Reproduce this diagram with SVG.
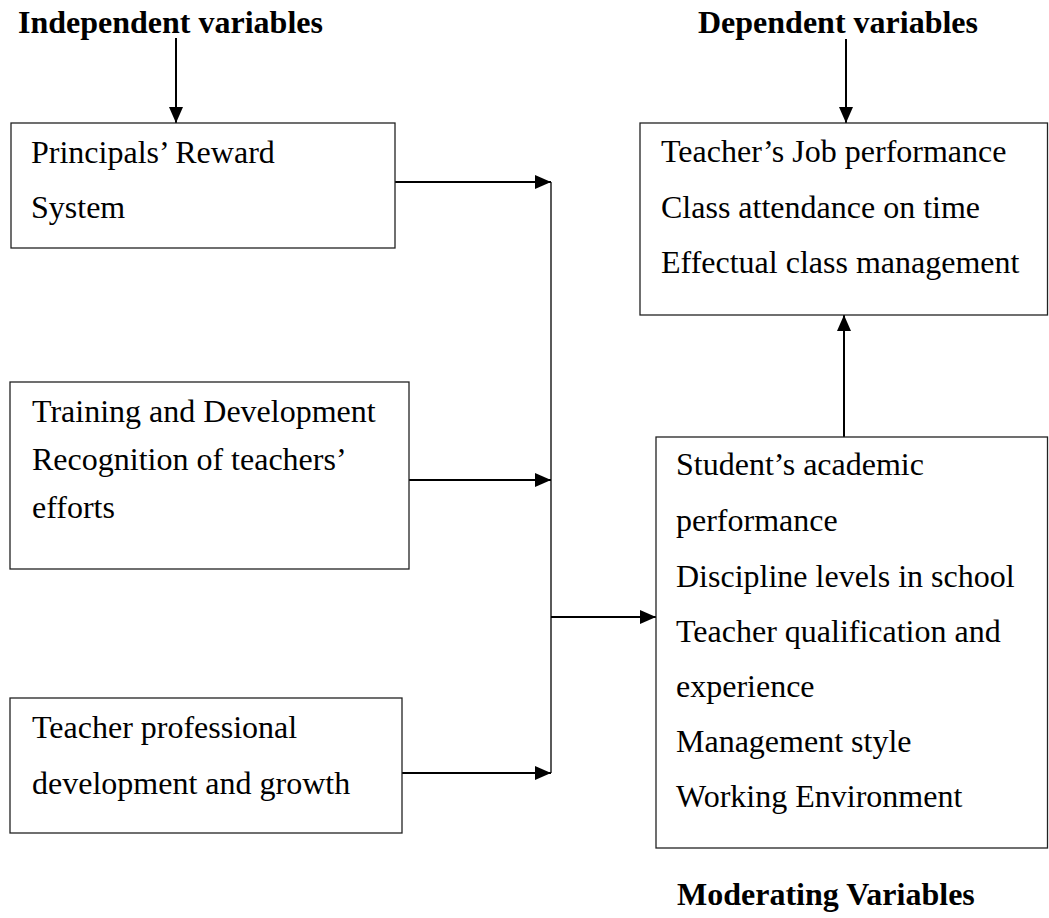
<svg xmlns="http://www.w3.org/2000/svg" width="1049" height="918" viewBox="0 0 1049 918">
<style>
.box{fill:#fff;stroke:#222;stroke-width:1.3}
.t{font-family:"Liberation Serif","Times New Roman",serif;font-size:32px;fill:#000}
.h{font-family:"Liberation Serif","Times New Roman",serif;font-size:32px;font-weight:bold;fill:#000}
.c{stroke:#000;stroke-width:2;fill:none}
.v{stroke:#000;stroke-width:1.3;fill:none}
</style>
<defs>
<marker id="ah" viewBox="0 0 16 14" refX="16" refY="7" markerWidth="16" markerHeight="14" markerUnits="userSpaceOnUse" orient="auto">
<path d="M0,0 L16,7 L0,14 Z" fill="#000"/>
</marker>
</defs>
<rect width="1049" height="918" fill="#fff"/>
<text class="h" x="18" y="33">Independent variables</text>
<text class="h" x="698" y="33">Dependent variables</text>
<text class="h" x="677" y="905">Moderating Variables</text>
<g id="connectors">
<line class="c" x1="176" y1="38" x2="176" y2="123" marker-end="url(#ah)"/>
<line class="c" x1="846" y1="39" x2="846" y2="123" marker-end="url(#ah)"/>
<line class="c" x1="844" y1="437" x2="844" y2="315" marker-end="url(#ah)"/>
<line class="v" x1="551" y1="182" x2="551" y2="773"/>
<line class="c" x1="395" y1="182" x2="551" y2="182" marker-end="url(#ah)"/>
<line class="c" x1="409" y1="480" x2="551" y2="480" marker-end="url(#ah)"/>
<line class="c" x1="402" y1="773" x2="551" y2="773" marker-end="url(#ah)"/>
<line class="c" x1="551" y1="617" x2="656" y2="617" marker-end="url(#ah)"/>
</g>
<g id="reward">
<rect class="box" x="11" y="123" width="384" height="125"/>
<text class="t" x="31" y="163">Principals’ Reward</text>
<text class="t" x="31" y="218">System</text>
</g>
<g id="training">
<rect class="box" x="10" y="382" width="399" height="187"/>
<text class="t" x="32" y="422">Training and Development</text>
<text class="t" x="32" y="470">Recognition of teachers’</text>
<text class="t" x="32" y="518">efforts</text>
</g>
<g id="professional">
<rect class="box" x="10" y="698" width="392" height="135"/>
<text class="t" x="32" y="738">Teacher professional</text>
<text class="t" x="32" y="794">development and growth</text>
</g>
<g id="dependent">
<rect class="box" x="640" y="123" width="407.5" height="192"/>
<text class="t" x="661" y="162">Teacher’s Job performance</text>
<text class="t" x="661" y="218">Class attendance on time</text>
<text class="t" x="661" y="273">Effectual class management</text>
</g>
<g id="moderating">
<rect class="box" x="656" y="437" width="391.5" height="411"/>
<text class="t" x="676" y="475">Student’s academic</text>
<text class="t" x="676" y="531">performance</text>
<text class="t" x="676" y="587">Discipline levels in school</text>
<text class="t" x="676" y="642">Teacher qualification and</text>
<text class="t" x="676" y="697">experience</text>
<text class="t" x="676" y="752">Management style</text>
<text class="t" x="676" y="807">Working Environment</text>
</g>
</svg>
